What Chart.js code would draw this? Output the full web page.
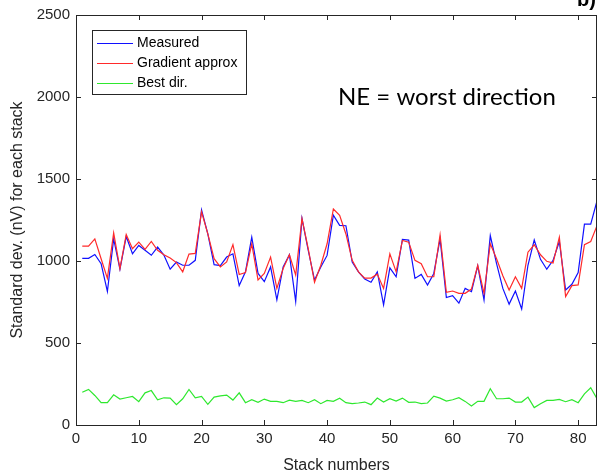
<!DOCTYPE html>
<html>
<head>
<meta charset="utf-8">
<script src="https://cdn.jsdelivr.net/npm/chart.js@4"></script>
<style>
  html, body { margin: 0; padding: 0; background: #fff; }
  canvas { display: block; }
</style>
</head>
<body>
<canvas id="chart" width="598" height="475"></canvas>
<script>
// stack numbers 1..83
var stacks = [1, 2, 3, 4, 5, 6, 7, 8, 9, 10, 11, 12, 13, 14, 15, 16, 17, 18, 19, 20,
    21, 22, 23, 24, 25, 26, 27, 28, 29, 30, 31, 32, 33, 34, 35, 36, 37, 38, 39, 40,
    41, 42, 43, 44, 45, 46, 47, 48, 49, 50, 51, 52, 53, 54, 55, 56, 57, 58, 59, 60,
    61, 62, 63, 64, 65, 66, 67, 68, 69, 70, 71, 72, 73, 74, 75, 76, 77, 78, 79, 80,
    81, 82, 83];

var measured = [1016, 1016, 1040, 984, 814, 1135, 950, 1149, 1044, 1095,
    1065, 1035, 1085, 1036, 950, 994, 974, 974, 1004, 1312,
    1165, 978, 972, 1024, 1044, 850, 934, 1145, 924, 874,
    964, 763, 964, 1038, 753, 1259, 1064, 884, 964, 1034,
    1279, 1217, 1215, 994, 934, 890, 870, 934, 733, 958,
    904, 1131, 1127, 894, 918, 854, 924, 1135, 777, 789,
    743, 833, 813, 970, 763, 1155, 984, 833, 737, 817,
    707, 974, 1129, 1010, 950, 1004, 1119, 823, 858, 930,
    1225, 1225, 1366];

var gradient = [1091, 1091, 1135, 1014, 894, 1171, 954, 1161, 1075, 1115,
    1071, 1119, 1065, 1038, 1018, 990, 934, 1042, 1046, 1300,
    1165, 1014, 964, 994, 1100, 918, 930, 1105, 884, 924,
    1024, 833, 954, 1038, 914, 1259, 1074, 870, 974, 1105,
    1317, 1278, 1165, 1004, 934, 896, 896, 920, 833, 1044,
    934, 1125, 1115, 1004, 984, 904, 904, 1159, 809, 817,
    803, 803, 829, 974, 803, 1105, 1014, 910, 823, 904,
    833, 1054, 1099, 1038, 998, 988, 1145, 783, 850, 854,
    1099, 1119, 1215];

var bestDir = [200, 217, 180, 136, 136, 184, 158, 166, 174, 142,
    196, 210, 154, 166, 164, 124, 160, 217, 166, 174,
    126, 170, 178, 182, 152, 196, 136, 154, 138, 158,
    144, 144, 136, 152, 144, 150, 136, 154, 130, 150,
    144, 163, 136, 130, 134, 140, 124, 164, 140, 160,
    146, 164, 138, 140, 130, 134, 176, 164, 146, 154,
    166, 144, 116, 144, 144, 221, 160, 160, 164, 140,
    140, 170, 106, 130, 150, 150, 156, 142, 154, 136,
    190, 227, 160];

var xTicks = [0, 10, 20, 30, 40, 50, 60, 70, 80];
var yTicks = [0, 500, 1000, 1500, 2000, 2500];

var seriesNames = ['Measured', 'Gradient approx', 'Best dir.'];
var seriesColors = ['#1010ff', '#ff2a2a', '#2ee82e'];

function points(values) {
    return stacks.map((s, i) => ({ x: s, y: values[i] }))
}

var axisColor = '#262626'

// box around plot with inward ticks, like the matlab figure
var boxPlugin = {
    id: 'box',
    afterDatasetsDraw(chart) {
        var ctx = chart.ctx
        var a = chart.chartArea
        var xs = chart.scales.x, ys = chart.scales.y
        ctx.save()
        ctx.strokeStyle = axisColor
        ctx.lineWidth = 1
        ctx.strokeRect(a.left + 0.5, a.top + 0.5, a.right - a.left - 1, a.bottom - a.top)
        ctx.beginPath()
        xTicks.forEach(v => {
            var px = Math.round(xs.getPixelForValue(v)) + 0.5
            ctx.moveTo(px, a.bottom); ctx.lineTo(px, a.bottom - 5)
            ctx.moveTo(px, a.top); ctx.lineTo(px, a.top + 5)
        });
        yTicks.forEach(v => {
            var py = Math.round(ys.getPixelForValue(v)) + 0.5
            ctx.moveTo(a.left, py); ctx.lineTo(a.left + 5, py)
            ctx.moveTo(a.right, py); ctx.lineTo(a.right - 5, py)
        });
        ctx.stroke()
        ctx.restore()
    }
}

// legend box in the upper left corner
var legendPlugin = {
    id: 'boxLegend',
    afterDraw(chart) {
        var ctx = chart.ctx
        ctx.save()
        ctx.fillStyle = '#fff'
        ctx.fillRect(92, 30, 154, 64)
        ctx.strokeStyle = '#262626'
        ctx.lineWidth = 1
        ctx.strokeRect(92.5, 30.5, 154, 64)
        ctx.font = '14px "Liberation Sans", Arial, sans-serif'
        ctx.textBaseline = 'middle'
        chart.data.datasets.forEach((ds, i) => {
            var y = 43 + i * 20
            ctx.strokeStyle = ds.borderColor
            ctx.beginPath()
            ctx.moveTo(97, y + 0.5); ctx.lineTo(133, y + 0.5)
            ctx.stroke()
            ctx.fillStyle = '#000'
            ctx.fillText(ds.label, 137, y)
        });
        // annotation
        ctx.font = '24px Lato, "Open Sans", sans-serif'
        ctx.fillStyle = '#000'
        ctx.fillText('NE = worst direction', 338, 97)
        // panel letter, cut off at the top
        ctx.font = 'bold 20px "Liberation Sans", Arial, sans-serif'
        ctx.textAlign = 'right'
        ctx.textBaseline = 'alphabetic'
        ctx.fillText('b)', 596, 6)
        ctx.restore()
    }
}

var ctx = document.getElementById('chart')
var myChart = new Chart(ctx, {
    type: 'line',
    data: {
        datasets: seriesNames.map((name, i) => ({
            label: name,
            data: points([measured, gradient, bestDir][i]),
            borderColor: seriesColors[i],
            borderWidth: 1.2,
            pointRadius: 0,
            tension: 0,
            order: i == 1 ? 0 : 1,
        }))
    },
    plugins: [boxPlugin, legendPlugin],
    options: {
        responsive: false,
        animation: false,
        layout: { padding: { top: 12, right: 1, left: 0, bottom: 0 } },
        plugins: {
            legend: { display: false },
            tooltip: { enabled: false },
        },
        scales: {
            x: {
                type: 'linear',
                min: 0,
                max: 83,
                grid: { display: false, drawTicks: false },
                border: { display: false },
                afterBuildTicks: scale => { scale.ticks = xTicks.map(v => ({ value: v })) },
                afterFit: scale => { scale.height = 50 },
                ticks: {
                    padding: 5,
                    maxRotation: 0,
                    color: axisColor,
                    callback: v => String(v),
                    font: { family: '"Liberation Sans", Arial, sans-serif', size: 15 },
                },
                title: {
                    display: true,
                    text: 'Stack numbers',
                    color: axisColor,
                    padding: { top: 0, bottom: 0 },
                    font: { family: '"Liberation Sans", Arial, sans-serif', size: 16 },
                },
            },
            y: {
                min: 0,
                max: 2500,
                grid: { display: false, drawTicks: false },
                border: { display: false },
                afterBuildTicks: scale => { scale.ticks = yTicks.map(v => ({ value: v })) },
                afterFit: scale => { scale.width = 76 },
                ticks: {
                    padding: 6,
                    color: axisColor,
                    callback: v => String(v),
                    font: { family: '"Liberation Sans", Arial, sans-serif', size: 15 },
                },
                title: {
                    display: true,
                    text: 'Standard dev. (nV) for each stack',
                    color: axisColor,
                    padding: { top: 8, bottom: 0 },
                    font: { family: '"Liberation Sans", Arial, sans-serif', size: 16 },
                },
            },
        },
    },
});
</script>
</body>
</html>
